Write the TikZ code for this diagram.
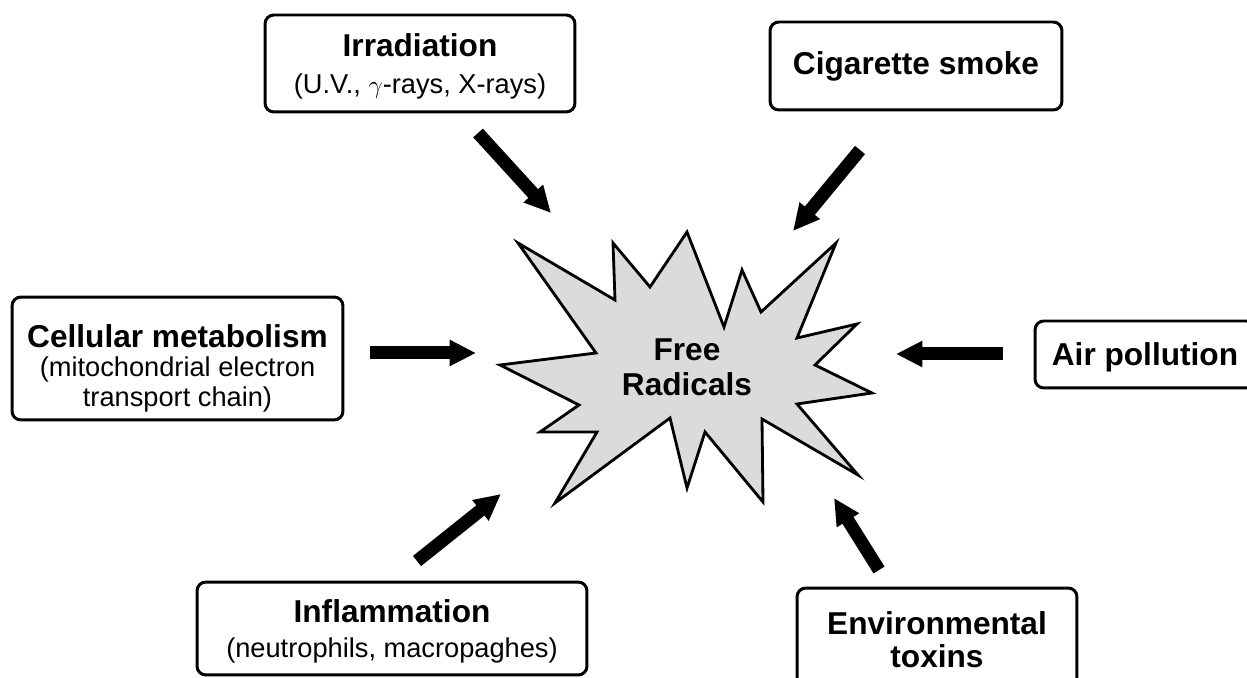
\documentclass[tikz,border=0pt]{standalone}
\usepackage{fontspec}
\setmainfont{Liberation Sans}
\usetikzlibrary{arrows.meta}

\newcommand{\boxtitle}[1]{{\bfseries\fontsize{18}{20}\selectfont #1}}

\begin{document}
\begin{tikzpicture}[x=0.02cm, y=-0.02cm,
    src/.style={draw, line width=1.7pt, rounded corners=5pt, align=center, inner sep=0pt,
      font=\fontsize{15.5}{17}\selectfont},
    push/.style={line width=7.4pt, -{Triangle[length=15pt, width=14pt]}},
    burst/.style={draw, line width=1.6pt, line join=miter, fill=black!14}]
    \clip (0,0) rectangle (1247,678);

    % --- centre: the burst ---
    \draw[burst] (518,243) -- (615,300) -- (613,243) -- (650,287) -- (687,232)
      -- (724,327) -- (742,270) -- (761,312) -- (836,243) -- (797,338)
      -- (857,324) -- (815,365) -- (872,393) -- (797,404) -- (858,475)
      -- (762,419) -- (763,502) -- (705,432) -- (687,488) -- (670,418)
      -- (555,503) -- (597,432) -- (540,432) -- (579,405) -- (500,365)
      -- (596,353) -- cycle;
    \node[font=\bfseries\fontsize{18}{20}\selectfont, align=center] (fr) at (687,367) {Free\\Radicals};

    % --- sources ---
    \node[src, text depth=0pt, minimum width=6.2cm, minimum height=1.94cm] (irr) at (420,63.5)
      {\boxtitle{Irradiation}\\[4pt](U.V., $\gamma$-rays, X-rays)};
    \node[src, minimum width=5.84cm, minimum height=1.76cm] (cig) at (916,66)
      {\boxtitle{Cigarette smoke}};
    \node[src, text depth=0pt, minimum width=6.62cm, minimum height=2.46cm] (cell) at (177.5,358.5)
      {\rule{0pt}{21pt}\boxtitle{Cellular metabolism}\\(mitochondrial electron\\transport chain)};
    \node[src, text depth=0pt, minimum width=4.4cm, minimum height=1.34cm] (air) at (1145,354.5)
      {\boxtitle{Air pollution}};
    \node[src, text depth=0pt, minimum width=7.8cm, minimum height=1.86cm] (infl) at (392,628.5)
      {\boxtitle{Inflammation}\\[3pt](neutrophils, macropaghes)};
    \node[src, minimum width=5.6cm, minimum height=2.08cm] (env) at (937,640)
      {\boxtitle{Environmental}\\[2pt]\boxtitle{toxins}};

    % --- arrows into the burst ---
    \coordinate (irr-s) at (478,133);  \coordinate (irr-e) at (551,213);
    \coordinate (cig-s) at (860,150);  \coordinate (cig-e) at (793,231);
    \coordinate (cell-s) at (370,353); \coordinate (cell-e) at (476,353);
    \coordinate (air-s) at (1003,354); \coordinate (air-e) at (896,354);
    \coordinate (infl-s) at (417,561); \coordinate (infl-e) at (501,494);
    \coordinate (env-s) at (879,570);  \coordinate (env-e) at (834,498);
    \foreach \a in {irr,cig,cell,air,infl,env}
      \draw[push] (\a-s) -- (\a-e);
\end{tikzpicture}
\end{document}
